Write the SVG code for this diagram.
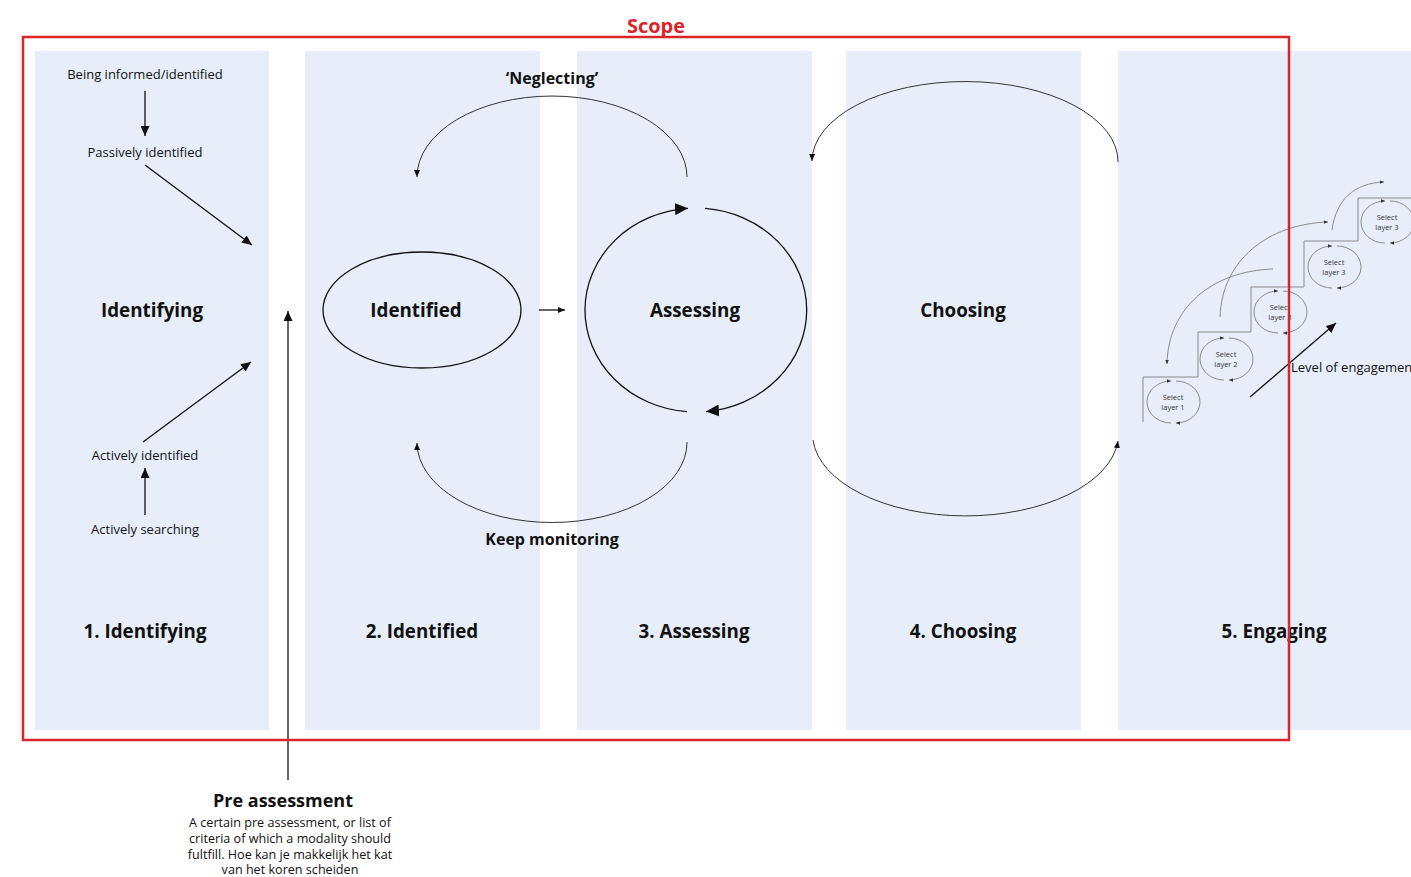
<svg xmlns="http://www.w3.org/2000/svg" width="1411" height="877" viewBox="0 0 1411 877">
  <style>
    text { font-family: "Open Sans", "Noto Sans", "Liberation Sans", sans-serif; fill: #111; text-anchor: middle; dominant-baseline: central; }
    .col { fill: #e7eef9; }
    .lbl { font-size: 13px; }
    .note { font-size: 12.6px; }
    .big { font-size: 18.8px; font-weight: bold; }
    .title { font-size: 18.8px; font-weight: bold; }
    .arc { font-size: 16px; font-weight: bold; }
    .mini { font-size: 7.5px; fill: #333; }
    .ln { fill: none; stroke: #111; stroke-width: 1.3; }
    .thin { fill: none; stroke: #333; stroke-width: 1; }
    .gray { fill: none; stroke: #808080; stroke-width: 0.9; }
  </style>
  <defs>
    <marker id="ah" markerUnits="userSpaceOnUse" markerWidth="10" markerHeight="9" refX="10" refY="4.5" orient="auto">
      <path d="M0,0 L10,4.5 L0,9 z" fill="#111"/>
    </marker>
    <marker id="ahBig" markerUnits="userSpaceOnUse" markerWidth="13" markerHeight="12" refX="13" refY="6" orient="auto">
      <path d="M0,0 L13,6 L0,12 z" fill="#111"/>
    </marker>
    <marker id="ahSm" markerUnits="userSpaceOnUse" markerWidth="7" markerHeight="6" refX="7" refY="3" orient="auto">
      <path d="M0,0 L7,3 L0,6 z" fill="#111"/>
    </marker>
    <marker id="ahTiny" markerUnits="userSpaceOnUse" markerWidth="4" markerHeight="3.4" refX="4" refY="1.7" orient="auto">
      <path d="M0,0 L4,1.7 L0,3.4 z" fill="#333"/>
    </marker>
    <!-- small cycle used on each stair step -->
    <g id="cycle">
      <path class="gray" d="M-2,21 A24,21 0 0 1 -2,-21" marker-end="url(#ahTiny)"/>
      <path class="gray" d="M3,-21 A24,21 0 0 1 3,21" marker-end="url(#ahTiny)"/>
    </g>
  </defs>

  <rect width="1411" height="877" fill="#ffffff"/>

  <!-- phase columns -->
  <g id="columns">
    <rect class="col" x="35" y="51" width="234" height="679"/>
    <rect class="col" x="305" y="51" width="235" height="679"/>
    <rect class="col" x="577" y="51" width="235" height="679"/>
    <rect class="col" x="846" y="51" width="235" height="679"/>
    <rect class="col" x="1118" y="51" width="293" height="679"/>
  </g>

  <!-- phase 1: identifying -->
  <g id="identifying">
    <text class="lbl" x="145" y="74">Being informed/identified</text>
    <text class="lbl" x="145" y="152">Passively identified</text>
    <text class="big" x="152" y="310">Identifying</text>
    <text class="lbl" x="145" y="455">Actively identified</text>
    <text class="lbl" x="145" y="529">Actively searching</text>
    <text class="title" x="145" y="631">1. Identifying</text>
  </g>

  <!-- phase 2: identified -->
  <g id="identified">
    <ellipse cx="422" cy="310" rx="99" ry="58" class="ln"/>
    <text class="big" x="416" y="310">Identified</text>
    <text class="title" x="422" y="631">2. Identified</text>
  </g>

  <!-- phase 3: assessing -->
  <g id="assessing">
    <text class="big" x="695" y="310">Assessing</text>
    <text class="title" x="694" y="631">3. Assessing</text>
  </g>

  <!-- phase 4: choosing -->
  <g id="choosing">
    <text class="big" x="963" y="310">Choosing</text>
    <text class="title" x="963" y="631">4. Choosing</text>
  </g>

  <!-- phase 5: engaging, staircase of layers -->
  <g id="engaging">
    <path class="gray" d="M1143,422 V377 H1198 V332 H1251 V287 H1304 V241 H1358 V198 H1411"/>
    <g id="layer1"><use href="#cycle" x="1173" y="402"/><text class="mini" x="1173" y="397">Select</text><text class="mini" x="1173" y="407">layer 1</text></g>
    <g id="layer2"><use href="#cycle" x="1226" y="359"/><text class="mini" x="1226" y="354">Select</text><text class="mini" x="1226" y="364">layer 2</text></g>
    <g id="layer3a"><use href="#cycle" x="1280" y="312"/><text class="mini" x="1280" y="307">Select</text><text class="mini" x="1280" y="317">layer 3</text></g>
    <g id="layer3b"><use href="#cycle" x="1334" y="267"/><text class="mini" x="1334" y="262">Select</text><text class="mini" x="1334" y="272">layer 3</text></g>
    <g id="layer3c"><use href="#cycle" x="1387" y="222"/><text class="mini" x="1387" y="217">Select</text><text class="mini" x="1387" y="227">layer 3</text></g>
    <path class="gray" d="M1273,269 C1212,271 1168,308 1167,364" marker-end="url(#ahTiny)"/>
    <path class="gray" d="M1220,317 C1222,260 1268,224 1328,222" marker-end="url(#ahTiny)"/>
    <path class="gray" d="M1332,230 C1336,200 1354,183 1384,182" marker-end="url(#ahTiny)"/>
    <line class="ln" x1="1250" y1="397" x2="1336" y2="323" marker-end="url(#ah)"/>
    <text class="lbl" x="1291" y="367" style="text-anchor:start">Level of engagement</text>
    <text class="title" x="1274" y="631">5. Engaging</text>
  </g>

  <!-- pre assessment note -->
  <g id="pre-assessment">
    <text x="283" y="800" style="font-size:18px;font-weight:bold">Pre assessment</text>
    <text class="note" x="290" y="822">A certain pre assessment, or list of</text>
    <text class="note" x="290" y="838">criteria of which a modality should</text>
    <text class="note" x="290" y="854">fultfill. Hoe kan je makkelijk het kat</text>
    <text class="note" x="290" y="869">van het koren scheiden</text>
  </g>

  <!-- connectors -->
  <g id="connectors">
    <line class="ln" x1="145" y1="91" x2="145" y2="136" marker-end="url(#ah)"/>
    <line class="ln" x1="145" y1="165" x2="252" y2="245" marker-end="url(#ah)"/>
    <line class="ln" x1="143" y1="442" x2="251" y2="362" marker-end="url(#ah)"/>
    <line class="ln" x1="145" y1="515" x2="145" y2="468" marker-end="url(#ah)"/>
    <line class="ln" x1="288" y1="780" x2="288" y2="311" marker-end="url(#ah)"/>
    <line class="ln" x1="539" y1="310" x2="565" y2="310" marker-end="url(#ahSm)"/>
    <!-- assessing cycle -->
    <path class="ln" d="M687,411.7 A111,102 0 0 1 688,208.3" marker-end="url(#ahBig)"/>
    <path class="ln" d="M705,208.4 A111,102 0 0 1 706,411.6" marker-end="url(#ahBig)"/>
    <!-- loops back to identified -->
    <path class="thin" d="M687,177 A135,81 0 0 0 417,177" marker-end="url(#ahSm)"/>
    <text class="arc" x="552" y="78">‘Neglecting’</text>
    <path class="thin" d="M687,442 A135,80 0 0 1 417,443" marker-end="url(#ahSm)"/>
    <text class="arc" x="552" y="539">Keep monitoring</text>
    <!-- choosing loops -->
    <path class="thin" d="M1118,162 A153,80 0 0 0 812,161" marker-end="url(#ahSm)"/>
    <path class="thin" d="M813,440 A153,82 0 0 0 1118,441" marker-end="url(#ahSm)"/>
  </g>

  <!-- scope frame -->
  <g id="scope">
    <rect x="23" y="37" width="1266" height="703" fill="none" stroke="#d9262b" stroke-width="2.5"/>
    <text x="656" y="25" style="font-size:20px;font-weight:bold;fill:#d9262b">Scope</text>
  </g>
</svg>
